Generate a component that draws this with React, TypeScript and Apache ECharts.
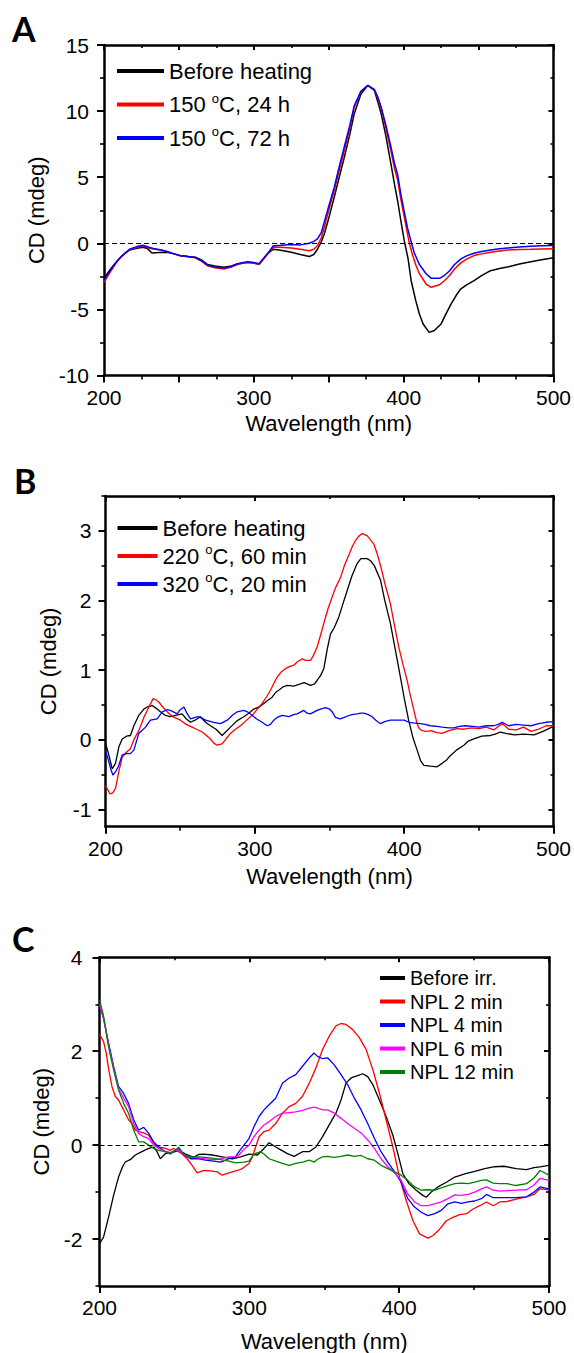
import React, { useEffect, useRef } from "react";
import * as echarts from "echarts";

const FONT = '"Liberation Sans", Arial, Helvetica, sans-serif';

// ---------- Panel A ----------
const A_NAMES = ["Before heating", "150 °C, 24 h", "150 °C, 72 h"];
const A_COLORS = ["#000000", "#ff0000", "#0000ff"];
const A_BEFORE = [[200,-2.65],[204,-2.0],[208,-1.44],[212,-0.95],[217,-0.5],[222,-0.38],[226,-0.3],[229,-0.4],[232,-0.73],[237,-0.7],[242,-0.68],[247,-0.8],[251,-0.93],[256,-1.0],[261,-1.06],[265,-1.25],[269,-1.6],[274,-1.72],[280,-1.82],[285,-1.72],[289,-1.57],[293,-1.5],[296,-1.44],[300,-1.5],[303.5,-1.57],[306,-1.25],[309,-0.8],[313,-0.45],[318,-0.52],[325,-0.68],[331,-0.85],[337,-1.0],[340,-0.85],[342.5,-0.45],[345,0.1],[347,0.7],[350,1.9],[353.7,3.5],[357,5.0],[360.4,6.5],[364,8.2],[367,9.8],[371.5,11.3],[376,11.94],[380.4,11.57],[383,10.6],[385,9.8],[388,8.2],[391.5,6.0],[394,4.4],[396,3.2],[398,1.8],[400.4,0.2],[403,-1.2],[405,-2.83],[408,-4.3],[410.5,-5.35],[413,-6.1],[417,-6.74],[420.5,-6.6],[425,-6.1],[428,-5.4],[431.6,-4.6],[435,-3.95],[438,-3.46],[442,-3.15],[447,-2.83],[452,-2.45],[458,-2.07],[464,-1.9],[470,-1.77],[478,-1.55],[485,-1.39],[492,-1.25],[500,-1.1]];
const A_24H = [[200,-2.95],[204,-2.2],[208,-1.5],[212,-0.95],[217,-0.5],[222,-0.3],[226,-0.18],[230,-0.38],[234,-0.45],[238,-0.5],[242,-0.62],[247,-0.8],[251,-0.95],[256,-1.02],[261,-1.1],[265,-1.35],[269,-1.7],[274,-1.85],[280,-1.94],[285,-1.8],[289,-1.6],[293,-1.5],[296,-1.45],[300,-1.5],[303.5,-1.6],[306,-1.25],[309,-0.85],[313,-0.28],[318,-0.3],[325,-0.35],[331,-0.45],[337,-0.56],[340,-0.45],[342.5,-0.18],[345,0.4],[347,1.2],[350,2.5],[353.7,4.0],[357,5.5],[360.4,7.0],[364,8.7],[367,10.3],[371.5,11.5],[376,11.94],[380.4,11.6],[383,10.9],[385,10.2],[388,8.8],[391.5,7.0],[394,5.6],[396,4.8],[398,3.4],[400.4,2.0],[403.8,0.0],[406,-0.9],[408,-1.6],[410.5,-2.3],[415,-3.08],[418.4,-3.33],[424,-3.13],[427,-2.85],[430.5,-2.45],[434,-1.95],[438,-1.5],[442,-1.2],[447,-0.93],[452,-0.8],[458,-0.68],[464,-0.58],[469.5,-0.5],[477,-0.47],[485,-0.45],[492,-0.43],[500,-0.42]];
const A_72H = [[200,-2.8],[204,-2.1],[208,-1.45],[212,-0.95],[217,-0.45],[222,-0.25],[226,-0.15],[230,-0.3],[234,-0.42],[238,-0.5],[242,-0.62],[247,-0.82],[251,-0.95],[256,-1.0],[261,-1.08],[265,-1.3],[269,-1.65],[274,-1.8],[280,-1.87],[285,-1.75],[289,-1.55],[293,-1.45],[296,-1.39],[300,-1.45],[303.5,-1.55],[306,-1.2],[309,-0.8],[313,-0.18],[318,-0.15],[325,-0.1],[331,-0.12],[337,0.0],[340,0.15],[342.5,0.33],[345,0.8],[347,1.6],[350,2.8],[353.7,4.24],[357,5.8],[360.4,7.3],[364,8.9],[367,10.4],[371.5,11.5],[376,11.94],[380.4,11.65],[383,11.0],[385,10.3],[388,9.0],[391.5,7.3],[394,6.0],[396,5.2],[398,3.8],[400.4,2.4],[402.5,1.2],[404.9,0.15],[407,-0.7],[410.5,-1.6],[415,-2.3],[418.4,-2.65],[424,-2.65],[427,-2.45],[430.5,-2.1],[434,-1.6],[438,-1.2],[442,-0.95],[447,-0.75],[452,-0.62],[458,-0.5],[464,-0.42],[469.5,-0.35],[477,-0.28],[485,-0.22],[492,-0.19],[500,-0.17]];
const A_Y_LABELS = [-10, -5, 0, 5, 10, 15];
const A_Y_MINOR = [-7.5, -2.5, 2.5, 7.5, 12.5];
const A_X_MAJOR = [200, 250, 300, 350, 400, 450, 500];
const A_X_MINOR = [225, 275, 325, 375, 425, 475];

// ---------- Panel B ----------
const B_NAMES = ["Before heating", "220 °C, 60 min", "320 °C, 20 min"];
const B_COLORS = ["#000000", "#ff0000", "#0000ff"];
const B_BEFORE = [[200,-0.05],[202,-0.2],[204.5,-0.42],[206.7,-0.34],[209,-0.1],[211.2,0.01],[214,0.05],[216.7,0.06],[219,0.2],[222.3,0.35],[225.7,0.44],[228,0.47],[231.3,0.49],[234,0.45],[236.8,0.4],[240,0.35],[243.5,0.33],[247,0.35],[251.3,0.37],[254,0.3],[256.9,0.25],[260,0.28],[263.6,0.33],[267,0.25],[270.3,0.2],[274,0.15],[278.1,0.06],[281,0.12],[283.7,0.18],[288,0.27],[292.6,0.33],[296,0.38],[299.3,0.44],[303,0.47],[306,0.52],[309,0.57],[311.6,0.61],[314,0.68],[316,0.71],[319,0.76],[321.7,0.78],[326,0.77],[330.6,0.8],[333,0.82],[337.3,0.78],[340,0.8],[341.7,0.85],[344,0.92],[346.2,1.02],[348.5,1.3],[350.7,1.52],[353,1.6],[356.2,1.76],[359,1.95],[361.8,2.14],[365,2.35],[368.5,2.53],[371,2.6],[373,2.6],[375.2,2.6],[377.5,2.57],[380,2.5],[384.2,2.29],[387,2.0],[390.8,1.67],[394,1.3],[397.5,0.9],[400,0.6],[403,0.28],[406,0.02],[408.7,-0.15],[411,-0.3],[413.2,-0.37],[417.6,-0.38],[422.1,-0.39],[425.4,-0.34],[428,-0.3],[430,-0.25],[435,-0.15],[440,-0.08],[443,-0.02],[446.7,0.01],[452,0.05],[457.8,0.06],[461,0.08],[464.5,0.11],[468,0.09],[474,0.07],[480,0.08],[487,0.07],[493,0.12],[500,0.19]];
const B_220C = [[200,-0.66],[203,-0.78],[205,-0.76],[206.7,-0.7],[209,-0.45],[211.2,-0.25],[214,-0.18],[216.7,-0.13],[219,0.0],[222.3,0.13],[225.7,0.32],[227.9,0.42],[231.9,0.59],[234,0.57],[235.7,0.54],[238,0.48],[241.3,0.4],[245,0.33],[250.2,0.28],[254,0.22],[258,0.18],[261,0.15],[264.7,0.11],[267,0.07],[270.3,0.01],[272.5,-0.05],[274.8,-0.08],[278.1,-0.06],[281,0.02],[283.7,0.09],[287,0.15],[290.4,0.2],[294,0.27],[298.2,0.35],[301,0.42],[304.9,0.52],[308,0.62],[310.5,0.71],[313,0.82],[315,0.9],[318,0.98],[320.5,1.02],[323,1.05],[326.1,1.07],[328.5,1.12],[331.7,1.16],[334,1.14],[337.3,1.14],[339,1.2],[341.7,1.33],[344,1.5],[346.2,1.67],[349,1.88],[351.8,2.05],[354,2.18],[357.4,2.33],[360,2.5],[362.9,2.65],[365,2.76],[367.4,2.86],[369.5,2.92],[371.9,2.96],[373,2.95],[375.2,2.93],[377.5,2.87],[379.7,2.81],[381.5,2.7],[384.2,2.5],[387,2.25],[390.8,1.95],[393,1.7],[396.4,1.33],[399,1.1],[402,0.85],[404,0.65],[406.5,0.42],[408.7,0.23],[410,0.16],[412,0.13],[415,0.12],[418,0.13],[422,0.1],[425.4,0.09],[430,0.13],[435.5,0.16],[440,0.15],[445,0.17],[450,0.16],[455,0.18],[460,0.14],[463,0.19],[466,0.23],[470,0.15],[475,0.14],[480,0.18],[485,0.12],[490,0.15],[495,0.2],[500,0.2]];
const B_320C = [[200,-0.15],[202,-0.3],[203.5,-0.42],[205,-0.51],[207,-0.45],[208.5,-0.39],[211.2,-0.22],[214,-0.2],[216.7,-0.2],[219,-0.15],[222.3,0.09],[226.8,0.18],[230.1,0.28],[234.6,0.3],[238,0.4],[241.3,0.43],[243.5,0.42],[248,0.37],[250,0.43],[252.5,0.47],[254.5,0.38],[256.9,0.3],[260,0.32],[262.5,0.33],[267,0.28],[272.5,0.25],[277,0.23],[281.5,0.28],[285,0.35],[288.2,0.4],[292.6,0.42],[295,0.4],[298.2,0.35],[301,0.3],[304.9,0.25],[308.3,0.2],[310.5,0.22],[312.7,0.28],[315,0.32],[318.3,0.35],[322.8,0.33],[326,0.36],[328.3,0.37],[332.8,0.42],[335,0.38],[337.3,0.37],[341.7,0.42],[344,0.44],[347.3,0.46],[350,0.44],[351.8,0.4],[354,0.32],[357,0.3],[360,0.32],[362,0.34],[365,0.36],[368.5,0.37],[371,0.38],[373,0.38],[376,0.36],[378.6,0.33],[381,0.28],[384.2,0.23],[387,0.26],[390.8,0.28],[394,0.28],[397.5,0.28],[400,0.28],[403.1,0.25],[406,0.24],[410.9,0.23],[414,0.22],[417.6,0.2],[422,0.19],[425.4,0.18],[430,0.17],[433.3,0.17],[437,0.19],[441.1,0.2],[446,0.19],[450,0.18],[455,0.2],[460,0.2],[463,0.22],[465.6,0.25],[470,0.2],[475,0.22],[480,0.21],[485,0.2],[490,0.23],[495,0.25],[500,0.26]];
const B_Y_LABELS = [-1, 0, 1, 2, 3];
const B_Y_MINOR = [-0.5, 0.5, 1.5, 2.5, 3.5];

// ---------- Panel C ----------
const C_NAMES = ["Before irr.", "NPL 2 min", "NPL 4 min", "NPL 6 min", "NPL 12 min"];
const C_COLORS = ["#000000", "#ff0000", "#0000ff", "#ff00ff", "#008000"];
const C_BEFORE = [[200,-2.1],[202.7,-1.96],[206,-1.54],[209.4,-1.07],[212.7,-0.68],[215.4,-0.46],[217.2,-0.36],[220.5,-0.31],[223.9,-0.21],[228.3,-0.14],[232.8,-0.07],[236.2,-0.04],[238.4,-0.14],[240.6,-0.29],[244,-0.18],[248.4,-0.16],[252.9,-0.11],[257.4,-0.19],[262.9,-0.26],[266,-0.2],[269.6,-0.19],[275.2,-0.21],[281.9,-0.25],[288.6,-0.29],[294.2,-0.25],[299.8,-0.19],[305.4,-0.21],[309.8,-0.07],[313.2,0.05],[317.6,-0.04],[321,-0.1],[325.4,-0.18],[329.9,-0.24],[335.5,-0.14],[340,-0.14],[344.4,-0.04],[348.9,0.18],[353.3,0.43],[357.8,0.68],[361.2,0.96],[364.5,1.32],[367.9,1.43],[372.3,1.48],[375.7,1.52],[379,1.46],[382.4,1.29],[386.8,0.96],[391.3,0.61],[395.8,0.21],[399.1,-0.18],[402.5,-0.61],[406.5,-0.82],[411.4,-0.96],[415.8,-1.07],[418.1,-1.11],[421.4,-1.0],[425.9,-0.89],[431.5,-0.79],[437.1,-0.68],[443.8,-0.61],[450.4,-0.56],[457.1,-0.5],[463.8,-0.46],[470,-0.45],[478,-0.5],[485,-0.52],[490,-0.48],[495,-0.46],[500,-0.43]];
const C_NPL2 = [[200,2.36],[202.7,2.21],[204.5,1.96],[206,1.64],[208.3,1.25],[210.5,1.04],[212.7,0.96],[215,0.82],[217.2,0.68],[219.4,0.54],[221.7,0.46],[223.9,0.32],[226.1,0.29],[229.5,0.26],[232.8,0.21],[236.2,0.04],[239.5,-0.04],[244,-0.07],[247.3,-0.11],[249.6,-0.07],[255.1,-0.19],[258.5,-0.29],[261.8,-0.43],[265.2,-0.59],[269.6,-0.54],[274.1,-0.55],[278.6,-0.57],[281.9,-0.64],[286.4,-0.59],[292,-0.54],[295.3,-0.5],[299.8,-0.39],[302,-0.25],[304.2,-0.04],[306.5,0.18],[309.8,0.29],[313.2,0.32],[317.6,0.46],[322.1,0.68],[326.6,0.82],[331,0.89],[335.5,1.04],[340,1.32],[344.4,1.64],[348.9,2.04],[353.3,2.32],[357.8,2.54],[361.2,2.59],[364.5,2.57],[369,2.46],[373.4,2.29],[377.9,2.04],[382.4,1.61],[386.8,1.11],[391.3,0.54],[395.8,-0.04],[400.2,-0.68],[404.7,-1.18],[409.2,-1.61],[413.6,-1.89],[419.2,-1.98],[422.5,-1.93],[427,-1.79],[431.5,-1.61],[435.9,-1.54],[440.4,-1.48],[444.9,-1.46],[449.3,-1.36],[453.8,-1.29],[458.3,-1.21],[462.7,-1.29],[467.2,-1.21],[472,-1.2],[478,-1.15],[485,-1.1],[490,-1.05],[494,-0.93],[500,-0.95]];
const C_NPL4 = [[200,3.0],[202.7,2.7],[206,2.18],[209.4,1.68],[212.7,1.25],[216.1,1.1],[219.4,0.89],[222.8,0.54],[226.1,0.32],[229.5,0.38],[232.8,0.25],[236.2,0.07],[239.5,-0.04],[244,-0.14],[247.3,-0.16],[250.7,-0.11],[252.9,-0.07],[256.3,-0.21],[260.7,-0.29],[266.3,-0.29],[270.8,-0.32],[276.3,-0.34],[280.8,-0.36],[286.4,-0.29],[290.8,-0.25],[293.1,-0.14],[296.4,0.0],[299.8,0.14],[303.1,0.39],[306.5,0.61],[309.8,0.75],[313.2,0.86],[317.6,1.0],[322.1,1.32],[326.6,1.43],[331,1.5],[335.5,1.68],[340,1.86],[343.3,1.96],[345.5,1.89],[348.9,1.84],[352.2,1.86],[356.7,1.71],[361.2,1.5],[365.6,1.29],[370.1,1.0],[374.6,0.75],[379,0.46],[383.5,0.14],[387.9,-0.14],[392.4,-0.36],[396.9,-0.57],[401.3,-0.79],[405.8,-1.14],[410.3,-1.32],[414.7,-1.43],[419.2,-1.5],[423.7,-1.46],[428.1,-1.39],[432.6,-1.25],[437.1,-1.21],[441.5,-1.24],[446,-1.21],[450.4,-1.19],[454.9,-1.14],[458.3,-1.05],[462.7,-1.12],[467.2,-1.12],[472,-1.12],[478,-1.12],[485,-1.1],[490,-1.0],[494,-0.89],[500,-0.93]];
const C_NPL6 = [[200,3.0],[202.7,2.7],[206,2.15],[209.4,1.65],[212.7,1.2],[216.1,1.0],[219.4,0.82],[222.8,0.46],[226.1,0.25],[229.5,0.18],[232.8,0.14],[236.2,0.0],[239.5,-0.07],[244,-0.14],[247.3,-0.18],[250.7,-0.11],[252.9,-0.11],[256.3,-0.21],[260.7,-0.26],[266.3,-0.27],[270.8,-0.29],[276.3,-0.31],[280.8,-0.29],[286.4,-0.25],[290.8,-0.25],[293.1,-0.21],[296.4,-0.09],[299.8,0.0],[303.1,0.18],[306.5,0.32],[309.8,0.43],[313.2,0.5],[317.6,0.61],[322.1,0.68],[326.6,0.69],[331,0.71],[335.5,0.74],[340,0.79],[343.3,0.81],[345.5,0.79],[348.9,0.75],[352.2,0.75],[356.7,0.68],[361.2,0.57],[365.6,0.46],[370.1,0.36],[374.6,0.26],[379,0.11],[383.5,-0.07],[387.9,-0.29],[392.4,-0.46],[396.9,-0.59],[401.3,-0.75],[405.8,-1.04],[410.3,-1.21],[414.7,-1.29],[419.2,-1.29],[423.7,-1.25],[428.1,-1.21],[432.6,-1.14],[437.1,-1.06],[441.5,-1.07],[446,-1.05],[450.4,-1.0],[454.9,-0.93],[458.3,-0.89],[462.7,-0.96],[467.2,-0.98],[472,-0.97],[478,-0.96],[485,-0.95],[490,-0.85],[494,-0.71],[500,-0.75]];
const C_NPL12 = [[200,3.1],[202.7,2.75],[206,2.1],[209.4,1.61],[212.7,1.18],[216.1,0.89],[219.4,0.68],[222.8,0.32],[226.1,0.07],[229.5,0.07],[232.8,0.0],[236.2,-0.07],[239.5,-0.11],[244,-0.14],[247.3,-0.19],[250.7,-0.11],[252.9,-0.04],[256.3,-0.21],[260.7,-0.25],[266.3,-0.25],[270.8,-0.26],[276.3,-0.28],[280.8,-0.31],[286.4,-0.34],[290.8,-0.38],[296.4,-0.36],[299.8,-0.34],[303.1,-0.19],[307.6,-0.14],[309.8,-0.19],[313.2,-0.29],[317.6,-0.34],[322.1,-0.39],[326.6,-0.43],[331,-0.39],[335.5,-0.36],[340,-0.32],[343.3,-0.36],[345.5,-0.3],[348.9,-0.25],[352.2,-0.24],[356.7,-0.26],[361.2,-0.24],[365.6,-0.21],[370.1,-0.24],[374.6,-0.22],[379,-0.29],[383.5,-0.32],[387.9,-0.43],[392.4,-0.5],[396.9,-0.57],[401.3,-0.64],[405.8,-0.75],[410.3,-0.89],[414.7,-0.96],[419.2,-0.95],[423.7,-0.96],[428.1,-0.91],[432.6,-0.86],[437.1,-0.82],[441.5,-0.81],[446,-0.82],[450.4,-0.79],[454.9,-0.75],[458.3,-0.74],[462.7,-0.81],[467.2,-0.82],[472,-0.82],[478,-0.86],[485,-0.82],[490,-0.7],[494,-0.54],[500,-0.64]];
const C_Y_LABELS = [-2, 0, 2, 4];
const C_Y_MINOR = [-3, -1, 1, 3];

const X_LABELS = [200, 300, 400, 500];
const BC_X_MINOR = [250, 350, 450];
const X_NAME = "Wavelength (nm)";
const Y_NAME = "CD (mdeg)";

type AxisOpts = {
  grid: number; pos: string; min: number; max: number; ticks: number[]; len: number;
  inside?: boolean; labels?: number[]; margin?: number; name?: string; nameGap?: number;
  line?: boolean; tw?: number;
};

function axis(o: AxisOpts): any {
  return {
    type: "value",
    gridIndex: o.grid,
    position: o.pos,
    min: o.min,
    max: o.max,
    axisLine: { show: o.line !== false, onZero: false, lineStyle: { color: "#000", width: 2.5 } },
    axisTick: {
      show: true, inside: !!o.inside, length: o.len, customValues: o.ticks,
      lineStyle: { color: "#000", width: o.tw ?? 2 },
    },
    axisLabel: o.labels
      ? { show: true, customValues: o.labels, color: "#000", fontSize: 21, fontFamily: FONT, margin: o.margin ?? 12 }
      : { show: false },
    splitLine: { show: false },
    name: o.name,
    nameLocation: "middle",
    nameGap: o.nameGap,
    nameTextStyle: { color: "#000", fontSize: 22, fontFamily: FONT },
  };
}

function panelAxes(g: number, xr: [number, number], xMajor: number[], xMinor: number[], yr: [number, number], yMajor: number[], yMinor: number[], xNameGap: number, yNameGap: number, yMargin: number) {
  const x = [
    axis({ grid: g, pos: "bottom", min: xr[0], max: xr[1], ticks: xMajor, len: 7, labels: X_LABELS, margin: 11, name: X_NAME, nameGap: xNameGap }),
    axis({ grid: g, pos: "bottom", min: xr[0], max: xr[1], ticks: xMinor, len: 4, line: false, tw: 1.6 }),
    axis({ grid: g, pos: "top", min: xr[0], max: xr[1], ticks: xMajor, len: 5, inside: true }),
    axis({ grid: g, pos: "top", min: xr[0], max: xr[1], ticks: xMinor, len: 3, inside: true, line: false, tw: 1.6 }),
  ];
  const y = [
    axis({ grid: g, pos: "left", min: yr[0], max: yr[1], ticks: yMajor, len: 7, labels: yMajor, margin: yMargin, name: Y_NAME, nameGap: yNameGap }),
    axis({ grid: g, pos: "left", min: yr[0], max: yr[1], ticks: yMinor, len: 4, line: false, tw: 1.6 }),
    axis({ grid: g, pos: "right", min: yr[0], max: yr[1], ticks: yMajor, len: 5, inside: true }),
    axis({ grid: g, pos: "right", min: yr[0], max: yr[1], ticks: yMinor, len: 3, inside: true, line: false, tw: 1.6 }),
  ];
  return { x, y };
}

function lineSeries(name: string, data: number[][], color: string, g: number, width: number, zero?: boolean): any {
  const s: any = {
    type: "line",
    name,
    data,
    xAxisIndex: g * 4,
    yAxisIndex: g * 4,
    symbol: "none",
    showSymbol: false,
    color,
    itemStyle: { color },
    lineStyle: { color, width },
    silent: true,
  };
  if (zero) {
    s.markLine = {
      silent: true,
      symbol: "none",
      label: { show: false },
      lineStyle: { type: [5, 3], color: "#000", width: 1 },
      data: [{ yAxis: 0 }],
    };
  }
  return s;
}

function legend(names: string[], left: number, top: number, w: number, gap: number, fontSize: number, lh: number): any {
  return {
    orient: "vertical",
    left,
    top,
    padding: 0,
    itemWidth: w,
    itemHeight: 4,
    itemGap: gap,
    icon: "rect",
    selectedMode: false,
    data: names,
    formatter: (n: string) => n.replace("°", "{sup|o}"),
    textStyle: {
      color: "#000",
      fontSize,
      fontFamily: FONT,
      lineHeight: lh,
      rich: { sup: { fontSize: Math.round(fontSize * 0.6), fontFamily: FONT, color: "#000", verticalAlign: "top", lineHeight: Math.round(fontSize * 0.6) } },
    },
  };
}

export default function App() {
  const ref = useRef<HTMLDivElement>(null);
  useEffect(() => {
    if (!ref.current) return;
    const chart = echarts.init(ref.current, null, { renderer: "svg" });
    const a = panelAxes(0, [200, 500], A_X_MAJOR, A_X_MINOR, [-10, 15], A_Y_LABELS, A_Y_MINOR, 37, 48, 15);
    const b = panelAxes(1, [200, 500], X_LABELS, BC_X_MINOR, [-1.25, 3.5], B_Y_LABELS, B_Y_MINOR, 39, 46, 14);
    const c = panelAxes(2, [200, 500], X_LABELS, BC_X_MINOR, [-3, 4], C_Y_LABELS, C_Y_MINOR, 44, 41, 17);
    const aData = [A_BEFORE, A_24H, A_72H];
    const bData = [B_BEFORE, B_220C, B_320C];
    const cData = [C_BEFORE, C_NPL2, C_NPL4, C_NPL6, C_NPL12];
    const series: any[] = [];
    aData.forEach((d, i) => series.push(lineSeries(A_NAMES[i], d, A_COLORS[i], 0, 1.5, i === 0)));
    bData.forEach((d, i) => series.push(lineSeries(B_NAMES[i], d, B_COLORS[i], 1, 1.3)));
    cData.forEach((d, i) => series.push(lineSeries(C_NAMES[i], d, C_COLORS[i], 2, 1.3, i === 0)));
    chart.setOption({
      animation: false,
      backgroundColor: "#fff",
      grid: [
        { left: 104, top: 45, width: 449.5, height: 330.5 },
        { left: 105.5, top: 496, width: 448.5, height: 330.7 },
        { left: 99.5, top: 957.3, width: 449.5, height: 330.4 },
      ],
      xAxis: [...a.x, ...b.x, ...c.x],
      yAxis: [...a.y, ...b.y, ...c.y],
      legend: [
        legend(A_NAMES, 117, 58, 47, 7.5, 22, 26),
        legend(B_NAMES, 117.5, 515, 40, 2, 22, 26),
        legend(C_NAMES, 380, 967, 25, 1.5, 20, 22),
      ],
      graphic: [
        { type: "text", x: 12, y: 11, style: { text: "A", font: "bold 34px Lato", fill: "#000" } },
        { type: "text", x: 14, y: 463, style: { text: "B", font: "bold 34px Lato", fill: "#000" } },
        { type: "text", x: 12, y: 921, style: { text: "C", font: "bold 34px Lato", fill: "#000" } },
      ],
      series,
    });
    return () => chart.dispose();
  }, []);
  return <div ref={ref} style={{ position: "absolute", left: 0, top: 0, width: 574, height: 1353 }} />;
}
